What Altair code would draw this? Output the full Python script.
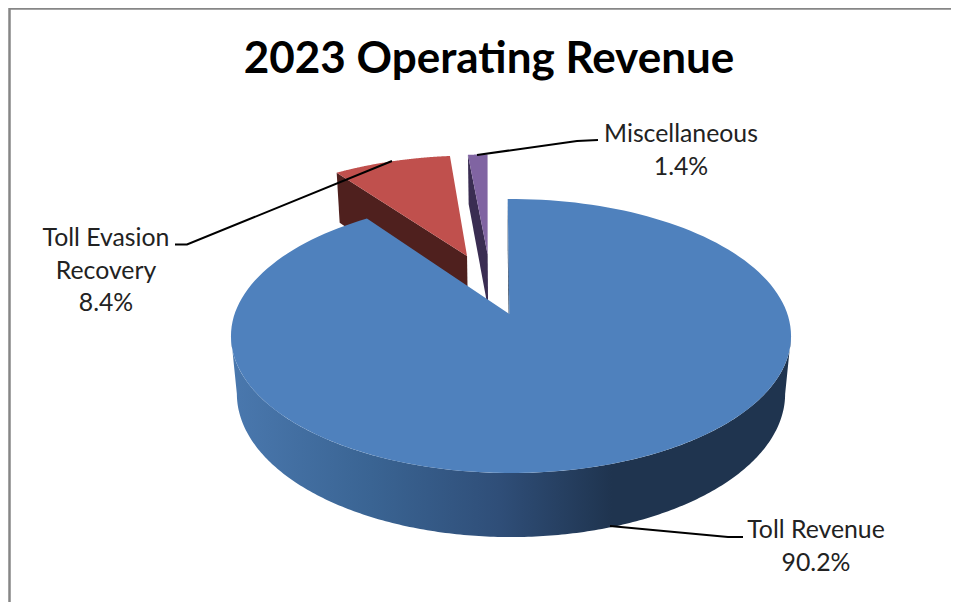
import numpy as np
import pandas as pd
import altair as alt

# ---- data
title = "2023 Operating Revenue"
categories = ["Toll Revenue", "Toll Evasion Recovery", "Miscellaneous"]
values = [90.2, 8.4, 1.4]
label_lines = [["Toll Revenue", "90.2%"], ["Toll Evasion", "Recovery", "8.4%"], ["Miscellaneous", "1.4%"]]

# ---- styling / layout
top_colors = ["#4f81bd", "#c0504d", "#8064a2"]
wall_colors = ["#1f344f", "#4f201e", "#3a2d52"]
W, H = 943, 594
FIRST_ANGLE = -0.8
# slice explosion in disc units (X to the right, Z to the back)
explode = [(0.0, 0.0), (-0.171, 0.467), (-0.091, 0.48)]
hub_offset = [(-0.006, 0.0), (0.0, 0.0), (0.0, 0.0)]
label_pos = [(816, 531), (106, 239), (681, 135)]
line_step = 32.5
leaders = [
    [(610, 526), (728, 537), (743, 537)],
    [(175, 244.5), (187, 244.5), (392, 161)],
    [(477, 155), (577, 141), (598, 140)],
]


def project(X, Z, bottom=False):
    """Perspective view of the disc: top face, or the bottom face of the extrusion."""
    X, Z = np.asarray(X, float), np.asarray(Z, float)
    p, a, b = 0.1607, 276.4, 133.5
    q, h = (0.021, 58.4) if bottom else (0.0, 0.0)
    w = 1 + p * Z + q
    return 511 + a * X / w, 314 + (h - b * Z) / w


total = sum(values)
spans = [v / total * 360 for v in values]
starts = [FIRST_ANGLE + sum(spans[:i]) for i in range(3)]
pieces = []


def add(name, xs, ys, fill):
    pieces.append((name, pd.DataFrame({"x": xs, "y": ys, "i": range(len(xs))}), fill))


def rim(k, t0, t1, n=160):
    th = np.radians(np.linspace(t0, t1, n))
    return explode[k][0] + np.sin(th), explode[k][1] + np.cos(th)


def hub(k):
    return explode[k][0] + hub_offset[k][0], explode[k][1] + hub_offset[k][1]


def top_face(k):
    X, Z = rim(k, starts[k], starts[k] + spans[k])
    hx, hz = hub(k)
    X, Z = np.r_[hx, X], np.r_[hz, Z]
    return project(X, Z)


def radial_wall(k, angle):
    th = np.radians(angle)
    hx, hz = hub(k)
    ex, ez = explode[k][0] + np.sin(th), explode[k][1] + np.cos(th)
    tx, ty = project([ex, hx], [ez, hz])
    bx, by = project([hx, ex], [hz, ez], bottom=True)
    return np.r_[tx, bx], np.r_[ty, by]


# red slice: the wall on its counter-clockwise edge and its top
x, y = radial_wall(1, starts[1])
add("red wall", x, y, wall_colors[1])
x, y = top_face(1)
add("red top", x, y, top_colors[1])
# purple slice
x, y = radial_wall(2, starts[2])
add("purple wall", x, y, wall_colors[2])
x, y = top_face(2)
add("purple top", x, y, top_colors[2])
# blue slice: wall on its first edge, outer wall with shading, top
x, y = radial_wall(0, starts[0])
add("blue wall", x, y, wall_colors[0])
# outer wall runs between the two silhouette points of the disc
X, Z = rim(0, 99.2, 260.8, 240)
tx, ty = project(X, Z)
bx, by = project(X[::-1], Z[::-1], bottom=True)
shade = alt.Gradient(
    gradient="linear", x1=0, x2=1, y1=0, y2=0,
    stops=[
        alt.GradientStop(color="#4a78ae", offset=0),
        alt.GradientStop(color="#3a6493", offset=0.25),
        alt.GradientStop(color="#2f4e78", offset=0.48),
        alt.GradientStop(color="#1f344f", offset=0.68),
        alt.GradientStop(color="#1f344f", offset=1),
    ],
)
add("blue side", np.r_[tx, bx], np.r_[ty, by], shade)
x, y = top_face(0)
add("blue top", x, y, top_colors[0])

xs = alt.X("x:Q", axis=None, scale=alt.Scale(domain=[8, 8 + W], nice=False, zero=False))
ys = alt.Y("y:Q", axis=None, scale=alt.Scale(domain=[8 + H, 8], nice=False, zero=False))

layers = []

# chart frame
frame = pd.DataFrame({"x": [9.5, 9.5, 8 + W], "y": [8 + H, 8.5, 8.5], "i": [0, 1, 2]})
layers.append(
    alt.Chart(frame).mark_line(color="#868686", strokeWidth=2.5, clip=False).encode(x=xs, y=ys, order="i:Q")
)

for name, df, fill in pieces:
    layers.append(
        alt.Chart(df).mark_line(fill=fill, strokeWidth=0, interpolate="linear").encode(x=xs, y=ys, order="i:Q")
    )

for pts in leaders:
    df = pd.DataFrame({"x": [p[0] for p in pts], "y": [p[1] for p in pts], "i": range(len(pts))})
    layers.append(
        alt.Chart(df).mark_line(color="#000000", strokeWidth=2).encode(x=xs, y=ys, order="i:Q")
    )

rows = []
for lines, (lx, ly) in zip(label_lines, label_pos):
    for n, t in enumerate(lines):
        rows.append({"x": lx, "y": ly + n * line_step, "t": t})
layers.append(
    alt.Chart(pd.DataFrame(rows))
    .mark_text(font="Lato", fontSize=24.8, color="#222222", align="center", baseline="middle")
    .encode(x=xs, y=ys, text="t:N")
)
layers.append(
    alt.Chart(pd.DataFrame([{"x": 489, "y": 60, "t": title}]))
    .mark_text(font="Lato", fontWeight="bold", fontSize=44, color="#000000", align="center", baseline="middle")
    .encode(x=xs, y=ys, text="t:N")
)

chart = (
    alt.layer(*layers)
    .properties(width=W, height=H, padding=0, autosize=alt.AutoSizeParams(type="none"), background="#ffffff")
    .configure_view(stroke=None)
)
chart.save("out.html", embed_options={"renderer": "svg", "actions": False})
